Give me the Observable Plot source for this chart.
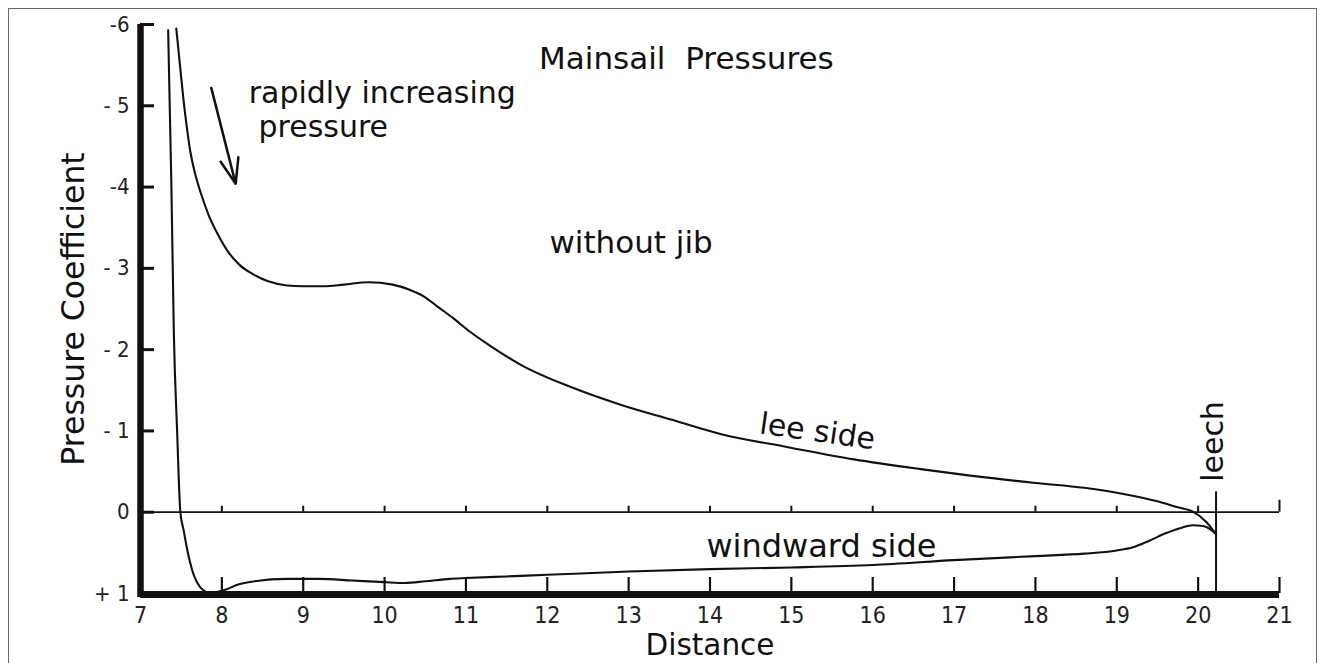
<!DOCTYPE html>
<html>
<head>
<meta charset="utf-8">
<script src="https://cdn.jsdelivr.net/npm/d3@7"></script>
<script src="https://cdn.jsdelivr.net/npm/@observablehq/plot@0.6"></script>
<style>
  html, body { margin: 0; padding: 0; background: #fff; }
  #wrap { position: relative; width: 1320px; height: 663px; overflow: hidden; }
  #border { position: absolute; left: 8px; top: 8px; width: 1307px; height: 700px; border: 1.5px solid #6a6a6a; pointer-events: none; }
</style>
</head>
<body>
<div id="wrap"><div id="border"></div></div>
<script>
// ---- data ----
const leeX = [7.44, 7.49, 7.53, 7.57, 7.61, 7.67, 7.74, 7.84, 7.95, 8.08, 8.22, 8.38, 8.57, 8.8, 9.0, 9.25, 9.5, 9.8, 10.1, 10.3, 10.49, 10.65, 10.84, 11.05, 11.28, 11.68, 12.29, 12.91, 13.52, 14.14, 14.96, 15.77, 16.59, 17.2, 18.0, 18.6, 19.0, 19.3, 19.55, 19.75, 19.93, 20.1, 20.22];
const leeY = [-5.95, -5.45, -5.06, -4.73, -4.45, -4.17, -3.93, -3.65, -3.42, -3.2, -3.04, -2.93, -2.84, -2.79, -2.78, -2.78, -2.8, -2.83, -2.8, -2.74, -2.65, -2.53, -2.39, -2.22, -2.06, -1.81, -1.54, -1.32, -1.14, -0.96, -0.8, -0.65, -0.53, -0.45, -0.36, -0.3, -0.24, -0.18, -0.12, -0.06, -0.01, 0.12, 0.27];
const windX = [7.34, 7.38, 7.41, 7.45, 7.49, 7.53, 7.57, 7.61, 7.65, 7.7, 7.76, 7.85, 7.95, 8.05, 8.2, 8.4, 8.8, 9.2, 9.6, 10.0, 10.25, 10.5, 10.8, 11.0, 11.5, 12.0, 13.0, 14.0, 15.0, 16.0, 17.0, 18.0, 18.6, 19.0, 19.2, 19.4, 19.6, 19.8, 19.93, 20.06, 20.15, 20.22];
const windY = [-5.93, -4.0, -2.2, -1.0, 0.0, 0.22, 0.44, 0.62, 0.76, 0.87, 0.95, 0.99, 0.98, 0.95, 0.89, 0.85, 0.82, 0.82, 0.84, 0.86, 0.87, 0.85, 0.82, 0.81, 0.79, 0.77, 0.73, 0.70, 0.68, 0.65, 0.59, 0.54, 0.51, 0.47, 0.43, 0.35, 0.26, 0.19, 0.16, 0.17, 0.21, 0.27];
const xTicks = [7, 8, 9, 10, 11, 12, 13, 14, 15, 16, 17, 18, 19, 20, 21];
const xTickLabels = ["7", "8", "9", "10", "11", "12", "13", "14", "15", "16", "17", "18", "19", "20", "21"];
const yTicks = [-6, -5, -4, -3, -2, -1, 0, 1];
const yTickLabels = ["-6", "- 5", "-4", "- 3", "- 2", "- 1", "0", "+ 1"];
const leechX = 20.22;
const leechTop = -0.25;
const arrowPts = [{x1: 7.87, y1: -5.22, x2: 8.17, y2: -4.04}];

const lee = leeX.map((x, i) => ({x, y: leeY[i]}));
const wind = windX.map((x, i) => ({x, y: windY[i]}));
const innerTicks = xTicks.slice(1, -1);

const F = "DejaVu Sans, sans-serif";
const FN = "'Liberation Sans Narrow', 'DejaVu Sans Condensed', 'Liberation Sans', sans-serif";
const ink = "#111";

const chart = Plot.plot({
  width: 1320,
  height: 663,
  marginLeft: 140,
  marginRight: 41,
  marginTop: 24,
  marginBottom: 70,
  style: {background: "transparent", color: ink, fontFamily: F},
  x: {domain: [7, 21], axis: null},
  y: {domain: [-6, 1], reverse: true, axis: null},
  marks: [
    // zero line with small upward ticks
    Plot.ruleY([0], {x1: 7, x2: 21, stroke: ink, strokeWidth: 1.8}),
    Plot.ruleX(innerTicks, {x: d => d, y1: 0, y2: 0, insetTop: -6, stroke: ink, strokeWidth: 2}),
    Plot.ruleX([21], {x: d => d, y1: 0, y2: 0, insetTop: -12, stroke: ink, strokeWidth: 2}),
    // bottom axis (thick) with upward ticks
    Plot.ruleX(xTicks.slice(1), {x: d => d, y1: 1, y2: 1, insetTop: -16, stroke: ink, strokeWidth: 2.2}),
    Plot.ruleY([1], {x1: 7, x2: 21, stroke: ink, strokeWidth: 7, dy: 1}),
    // left axis (thick) with inward ticks
    Plot.ruleY(yTicks, {y: d => d, x1: 7, x2: 7, insetRight: -14, stroke: ink, strokeWidth: 3}),
    Plot.ruleX([7], {y1: -6, y2: 1, stroke: ink, strokeWidth: 6.5, insetBottom: -4}),
    // leech marker
    Plot.ruleX([leechX], {x: d => d, y1: leechTop, y2: 1, stroke: ink, strokeWidth: 2}),
    // pressure curves
    Plot.line(lee, {x: "x", y: "y", curve: "monotone-x", stroke: ink, strokeWidth: 2.1}),
    Plot.line(wind, {x: "x", y: "y", curve: "monotone-x", stroke: ink, strokeWidth: 2.1}),
    // tick labels
    Plot.text(xTicks, {x: d => d, y: 1, text: (d, i) => xTickLabels[i], dy: 22, fontSize: 23, fontFamily: FN, fill: "#222"}),
    Plot.text(yTicks, {x: 7, y: d => d, text: (d, i) => yTickLabels[i], dx: -11, textAnchor: "end", fontSize: 22, fontFamily: FN, fill: "#222"}),
    // axis titles
    Plot.text(["Pressure Coefficient"], {frameAnchor: "left", textAnchor: "middle", lineAnchor: "middle", dx: -67, rotate: -90, fontSize: 31.5, fill: ink}),
    Plot.text(["Distance"], {frameAnchor: "bottom", textAnchor: "middle", lineAnchor: "middle", dy: 52, fontSize: 29.5, fill: ink}),
    // annotations
    Plot.text(["Mainsail  Pressures"], {x: 13.71, y: -5.57, fontSize: 31, fill: ink}),
    Plot.text(["rapidly increasing"], {x: 8.33, y: -5.15, textAnchor: "start", fontSize: 30, fill: ink}),
    Plot.text(["pressure"], {x: 8.45, y: -4.74, textAnchor: "start", fontSize: 30, fill: ink}),
    Plot.text(["without jib"], {x: 13.03, y: -3.31, fontSize: 31, fill: ink}),
    Plot.text(["lee side"], {x: 15.32, y: -0.99, rotate: 8, fontSize: 30, fill: ink}),
    Plot.text(["windward side"], {x: 15.37, y: 0.43, fontSize: 32, fill: ink}),
    Plot.text(["leech"], {x: 20.19, y: -0.87, rotate: -90, fontSize: 30, fill: ink}),
    Plot.arrow(arrowPts, {x1: "x1", y1: "y1", x2: "x2", y2: "y2", stroke: ink, strokeWidth: 2.5, headLength: 16, headAngle: 40})
  ]
});
document.getElementById("wrap").prepend(chart);
</script>
</body>
</html>
